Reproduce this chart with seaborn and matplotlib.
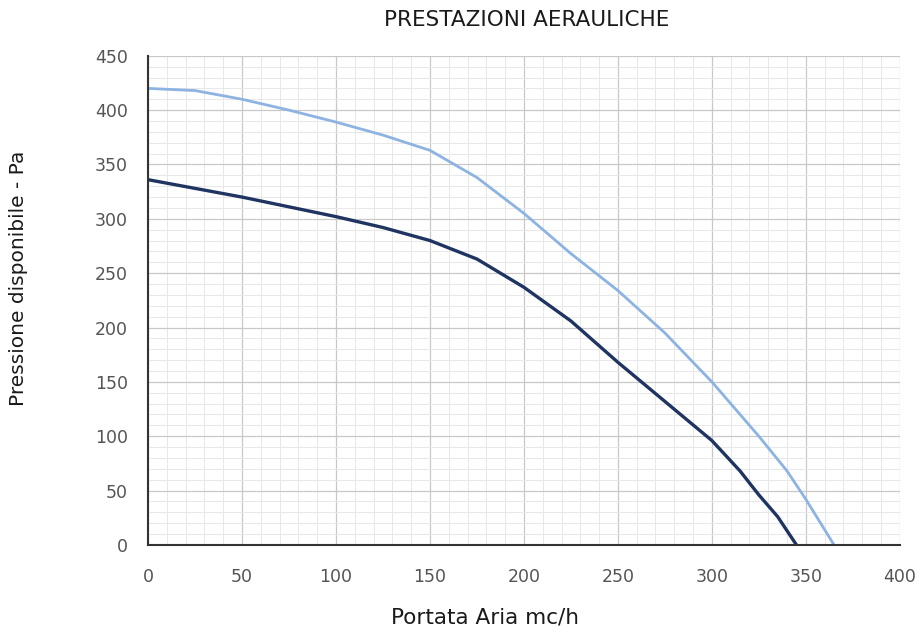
import numpy as np
import pandas as pd
import seaborn as sns
import matplotlib.pyplot as plt
from matplotlib.ticker import MultipleLocator

# curve values
portata_alta = [0, 25, 50, 75, 100, 125, 150, 175, 200, 225, 250, 275, 300, 325, 340, 350, 365]
pressione_alta = [420, 418, 410, 400, 389, 377, 363, 338, 305, 268, 234, 195, 150, 100, 68, 42, 0]

portata_bassa = [0, 25, 50, 75, 100, 125, 150, 175, 200, 225, 250, 275, 300, 315, 325, 335, 345]
pressione_bassa = [336, 328, 320, 311, 302, 292, 280, 263, 237, 206, 168, 132, 96, 68, 46, 26, 0]

sns.set_theme(style="white")
plt.rcParams['font.family'] = ['DejaVu Sans']

fig, ax = plt.subplots(figsize=(9.2, 6.27), dpi=100)
fig.subplots_adjust(left=0.161, right=0.978, top=0.911, bottom=0.131)

df_alta = pd.DataFrame({"x": portata_alta, "y": pressione_alta})
df_bassa = pd.DataFrame({"x": portata_bassa, "y": pressione_bassa})

sns.lineplot(data=df_alta, x="x", y="y", ax=ax, color="#8db3e2", linewidth=2)
sns.lineplot(data=df_bassa, x="x", y="y", ax=ax, color="#1f3461", linewidth=2.4)

ax.set_xlim(0, 400)
ax.set_ylim(0, 450)
ax.xaxis.set_major_locator(MultipleLocator(50))
ax.yaxis.set_major_locator(MultipleLocator(50))
ax.xaxis.set_minor_locator(MultipleLocator(10))
ax.yaxis.set_minor_locator(MultipleLocator(10))
ax.grid(which="major", color="#c8c8c8", linewidth=0.9)
ax.grid(which="minor", color="#e8e8e8", linewidth=0.7)
ax.set_axisbelow(True)

for s in ["top", "right"]:
    ax.spines[s].set_visible(False)
ax.spines["left"].set_color("#333333")
ax.spines["bottom"].set_color("#333333")
ax.spines["left"].set_linewidth(1.5)
ax.spines["bottom"].set_linewidth(1.5)

ax.tick_params(axis="both", which="both", length=0, labelsize=12.5, colors="#555555")
ax.tick_params(axis="x", pad=17)
ax.tick_params(axis="y", pad=14.5)

ax.set_xlabel("Portata Aria mc/h", fontsize=15.5, color="#1a1a1a", va="center")
ax.set_ylabel("Pressione disponibile - Pa", fontsize=14.5, color="#1a1a1a", va="center")
ax.xaxis.set_label_coords(0.448, -0.149)
ax.yaxis.set_label_coords(-0.173, 0.546)
fig.text(0.573, 0.968, "PRESTAZIONI AERAULICHE", ha="center", va="center", fontsize=15.5, color="#1a1a1a")

plt.savefig("out.png", dpi=100)
